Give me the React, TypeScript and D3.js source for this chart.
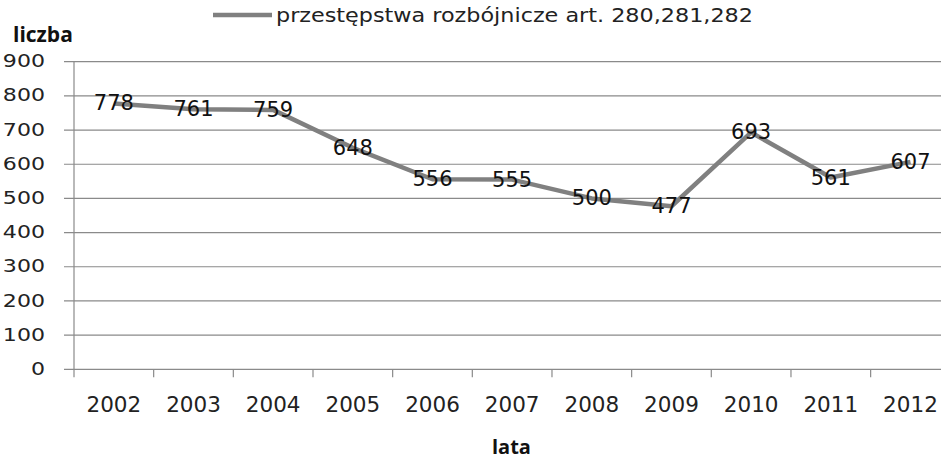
import React from "react";
import * as d3 from "d3";

const years = ["2002","2003","2004","2005","2006","2007","2008","2009","2010","2011","2012"];
const values = [778, 761, 759, 648, 556, 555, 500, 477, 693, 561, 607];
const yTicks = [0, 100, 200, 300, 400, 500, 600, 700, 800, 900];
const seriesName = "przestępstwa rozbójnicze art. 280,281,282";
const yTitle = "liczba";
const xTitle = "lata";

const W = 943, H = 461;
const left = 74, right = 950.3, top = 61.7, bottom = 369.3, clipRight = 941;
const axisColor = "#8a8a8a";
const lineColor = "#808080";
const font = "'DejaVu Sans', sans-serif";

export default function App() {
  const x = d3.scaleBand<string>().domain(years).range([left, right]).padding(0);
  const y = d3.scaleLinear().domain([0, 900]).range([bottom, top]);
  const cx = (d: string) => (x(d) ?? 0) + x.bandwidth() / 2;
  const line = d3.line<number>().x((_, i) => cx(years[i])).y((v) => y(v));
  const boundaries = years.map((d) => x(d) ?? 0);

  return (
    <svg width={W} height={H} style={{ position: "absolute", left: 0, top: 0, background: "#fff" }}>
      {yTicks.map((t) => (
        <line key={t} x1={left - 10} x2={clipRight} y1={y(t)} y2={y(t)} stroke={axisColor} strokeWidth={1.2} />
      ))}
      <line x1={left} x2={left} y1={y(900)} y2={y(0)} stroke={axisColor} strokeWidth={1.2} />
      {boundaries.map((b, i) => (
        <line key={i} x1={b} x2={b} y1={y(0)} y2={y(0) + 8} stroke={axisColor} strokeWidth={1.2} />
      ))}
      {yTicks.map((t) => (
        <text key={t} transform={`translate(45,${y(t)}) scale(1.3,1)`} textAnchor="end" dominantBaseline="central"
          fontFamily={font} fontSize={17} fill="#222">{t}</text>
      ))}
      {years.map((d) => (
        <text key={d} x={cx(d)} y={411.7} textAnchor="middle" fontFamily={font} fontSize={21.5} fill="#222">{d}</text>
      ))}
      <path d={line(values) ?? ""} fill="none" stroke={lineColor} strokeWidth={4.5} strokeLinejoin="round" />
      {values.map((v, i) => (
        <text key={i} x={cx(years[i])} y={y(v)} textAnchor="middle" dominantBaseline="central"
          fontFamily={font} fontSize={21} fill="#111">{v}</text>
      ))}
      <line x1={213} x2={272} y1={15} y2={15} stroke={lineColor} strokeWidth={4.5} />
      <text x={276} y={22} fontFamily={font} fontSize={19} fill="#222" textLength={477} lengthAdjust="spacingAndGlyphs">{seriesName}</text>
      <text x={13} y={41.7} fontFamily="'Open Sans', sans-serif" fontWeight="bold" fontSize={21} fill="#111">{yTitle}</text>
      <text x={492} y={454} fontFamily="'Open Sans', sans-serif" fontWeight="bold" fontSize={20} fill="#111">{xTitle}</text>
    </svg>
  );
}
